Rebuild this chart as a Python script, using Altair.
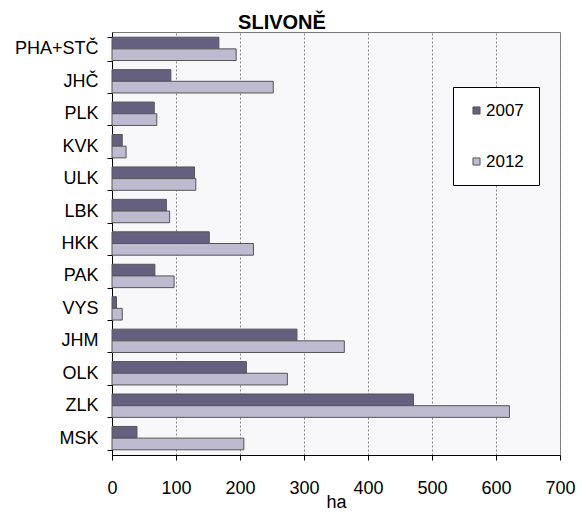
import altair as alt
import pandas as pd

regions = ["PHA+STČ", "JHČ", "PLK", "KVK", "ULK", "LBK", "HKK", "PAK", "VYS", "JHM", "OLK", "ZLK", "MSK"]
v2007 = [167, 92, 66, 16, 129, 85, 152, 67, 7, 289, 210, 471, 39]
v2012 = [194, 252, 70, 22, 131, 90, 221, 97, 16, 363, 274, 621, 206]
years = ["2007", "2012"]
colors = ["#666080", "#BEBBD0"]

rows = []
for r, a, b in zip(regions, v2007, v2012):
    rows.append({"kraj": r, "rok": "2007", "ha": a})
    rows.append({"kraj": r, "rok": "2012", "ha": b})
df = pd.DataFrame(rows)

FONT = "Liberation Sans"

chart = alt.Chart(df).mark_bar(stroke="#555555", strokeWidth=1).encode(
    y=alt.Y("kraj:N", sort=regions, title=None,
            scale=alt.Scale(paddingInner=0.28, paddingOuter=0.16),
            axis=alt.Axis(tickBand="extent", labelFontSize=18, labelFont=FONT,
                          labelColor="black", domainColor="black", tickColor="black",
                          tickSize=5, labelPadding=9, grid=False)),
    yOffset=alt.YOffset("rok:N", sort=years),
    x=alt.X("ha:Q", title="ha",
            scale=alt.Scale(domain=[0, 700], nice=False),
            axis=alt.Axis(values=[0, 100, 200, 300, 400, 500, 600, 700],
                          labelFlush=False,
                          labelFontSize=18, labelFont=FONT, labelColor="black",
                          titleFontSize=18, titleFont=FONT, titleFontWeight="normal",
                          titleColor="black", titlePadding=-4,
                          domainColor="black", tickColor="black", tickSize=5,
                          labelPadding=19, grid=True, gridColor="#888888",
                          gridDash=[2, 2], gridWidth=1)),
    color=alt.Color("rok:N", sort=years,
                    scale=alt.Scale(domain=years, range=colors),
                    legend=alt.Legend(title=None, orient="none", legendX=341, legendY=55,
                                      symbolType="square", symbolSize=50,
                                      symbolStrokeColor="#555555", symbolStrokeWidth=1,
                                      labelFontSize=17, labelFont=FONT, labelColor="black",
                                      rowPadding=33, padding=15, fillColor="white",
                                      strokeColor="black", cornerRadius=0,
                                      labelOffset=1)),
).properties(
    width=448,
    height=423,
    title=alt.TitleParams("SLIVONĚ", fontSize=20, font=FONT, fontWeight="bold",
                          color="black", anchor="middle", dx=-54, offset=-10),
    autosize=alt.AutoSizeParams(type="none"),
    padding={"left": 104, "top": 24, "right": 19, "bottom": 62},
).configure_view(
    fill="#F8F8FA", stroke="#777777", strokeWidth=1
)

chart.save("out.html", embed_options={"renderer": "svg", "actions": False})
